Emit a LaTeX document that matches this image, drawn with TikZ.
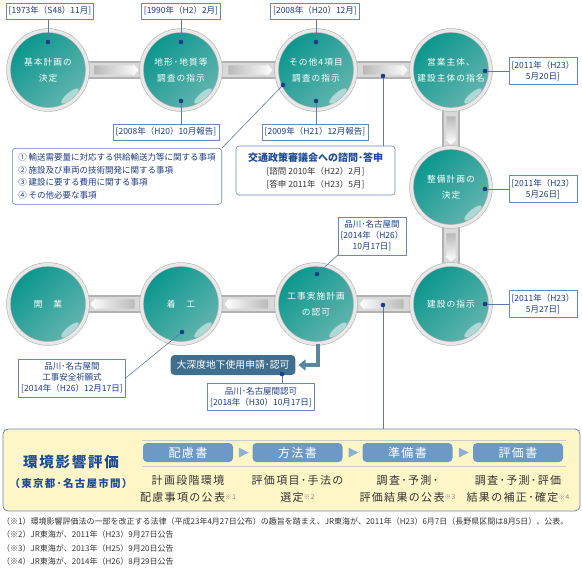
\documentclass[tikz,border=0pt]{standalone}
\usepackage{fontspec}
\setmainfont{Noto Sans CJK JP}
\newfontfamily\hirome{Noto Sans CJK JP}[LetterSpace=12]
\usepackage{xcolor}
\usepackage{tikz}
\usetikzlibrary{calc,backgrounds,shapes.arrows,arrows.meta}
\definecolor{midori}{HTML}{0A968D}
\definecolor{midoriusu}{HTML}{64B5AF}
\definecolor{kon}{HTML}{1E3C88}
\definecolor{waku}{HTML}{6688BC}
\definecolor{hagane}{HTML}{3F6F8F}
\definecolor{ao}{HTML}{6D99C7}
\definecolor{aousu}{HTML}{8DB0D6}
\definecolor{ai}{HTML}{1F4C96}
\definecolor{kiiro}{HTML}{FFF6C8}
\definecolor{sumi}{HTML}{333333}
\newcommand{\kome}[1]{{\color{gray}\fontsize{6.5}{7}\selectfont\raisebox{2.5pt}{※#1}}}

\begin{document}
\begin{tikzpicture}[x=1pt,y=-1pt,
  maru/.style={circle,minimum size=79pt,inner sep=0pt,
    left color=midori,right color=midoriusu,shading angle=45,
    draw=gray!60,double=gray!18,double distance=3.2pt,line width=.6pt,
    text=white,align=center,font=\hirome\fontsize{8.7}{16}\selectfont,
    path picture={\fill[white,opacity=.5]
      ([xshift=22pt,yshift=-26pt]path picture bounding box.center)
      ellipse [x radius=11pt,y radius=3.5pt,rotate=40];}},
  hizuke/.style={draw=waku,fill=white,text=kon,line width=.6pt,
    inner xsep=2.5pt,inner ysep=3.5pt,align=center,
    font=\fontsize{8.5}{11}\selectfont},
  ten/.style={fill=kon},
  hari/.style={draw=waku!80!kon,line width=.6pt},
  bou/.style={line width=18pt,draw=gray!60},
  bounaka/.style={line width=14pt,draw=gray!30},
  ya/.style={single arrow,inner sep=4.5pt,draw=none,
    single arrow head extend=1.5pt,single arrow tip angle=100},
  yamigi/.style={ya,minimum height=44pt,left color=gray!55,right color=white},
  yahidari/.style={ya,minimum height=44pt,shape border rotate=180,
    left color=white,right color=gray!55},
  yashita/.style={ya,minimum height=28pt,shape border rotate=270,
    top color=gray!55,bottom color=white},
  hako/.style={draw=waku,fill=white,line width=.6pt,rounded corners=3pt},
  daishindo/.style={fill=hagane,text=white,rounded corners=4pt,
    inner xsep=6pt,minimum height=20pt,font=\fontsize{9.8}{10}\selectfont},
  yajirushi/.style={draw=hagane!85!white,line width=3.5pt,
    -{Triangle[length=7pt,width=11pt]},shorten >=3pt},
  kankyo/.style={draw=waku,fill=kiiro,line width=.8pt,rounded corners=5pt,
    minimum width=577pt,minimum height=82pt},
  shosho/.style={fill=ao,text=white,rounded corners=4pt,minimum width=90pt,
    minimum height=19pt,inner sep=0pt,font=\hirome\fontsize{12}{12}\selectfont},
  sankaku/.style={fill=aousu},
  setsumei/.style={text=sumi,align=center,font=\hirome\fontsize{11}{17}\selectfont},
  chuu/.style={text=sumi,align=left,inner sep=0pt,font=\fontsize{8}{13.5}\selectfont}]
  \useasboundingbox (0,0) rectangle (582,571);

  % 丸
  \node[maru] (kihon) at (48,70) {基本計画の\\決定};
  \node[maru] (chikei) at (181,70) {地形･地質等\\調査の指示};
  \node[maru] (sonota) at (316,70) {その他4項目\\調査の指示};
  \node[maru] (eigyo) at (451,70) {営業主体、\\建設主体の指名};
  \node[maru] (seibi) at (451,187) {整備計画の\\決定};
  \node[maru] (kensetsu) at (451,304) {建設の指示};
  \node[maru] (koji) at (316,304) {工事実施計画\\の認可};
  \node[maru] (chakko) at (181,304) {着　工};
  \node[maru] (kaigyo) at (48,304) {開　業};

  % 棒
  \begin{scope}[on background layer]
    \draw[bou] (kihon.center) -- (chikei.center) -- (sonota.center) -- (eigyo.center)
      -- (seibi.center) -- (kensetsu.center) -- (koji.center) -- (chakko.center) -- (kaigyo.center);
    \draw[bounaka] (kihon.center) -- (chikei.center) -- (sonota.center) -- (eigyo.center)
      -- (seibi.center) -- (kensetsu.center) -- (koji.center) -- (chakko.center) -- (kaigyo.center);
  \end{scope}
  \path (kihon) -- node[yamigi] (y1) {} (chikei);
  \path (chikei) -- node[yamigi] (y2) {} (sonota);
  \path (sonota) -- node[yamigi] (y3) {} (eigyo);
  \path (eigyo) -- node[yashita] (y4) {} (seibi);
  \path (seibi) -- node[yashita] (y5) {} (kensetsu);
  \path (kensetsu) -- node[yahidari] (y6) {} (koji);
  \path (koji) -- node[yahidari] (y7) {} (chakko);
  \path (chakko) -- node[yahidari] (y8) {} (kaigyo);

  % 日付
  \node[hizuke] (h1) at (50,11) {[1973年（S48）11月]};
  \node[hizuke] (h2) at (181,11) {[1990年（H2）2月]};
  \node[hizuke] (h2b) at (166,132) {[2008年（H20）10月報告]};
  \node[hizuke] (h3) at (315,11) {[2008年（H20）12月]};
  \node[hizuke] (h3b) at (315,132) {[2009年（H21）12月報告]};
  \node[hizuke] (h4) at (543,71) {[2011年（H23）\\5月20日]};
  \node[hizuke] (h5) at (543,189) {[2011年（H23）\\5月26日]};
  \node[hizuke] (h6) at (543,304) {[2011年（H23）\\5月27日]};
  \node[hizuke] (h7) at (372,236) {品川･名古屋間\\{}[2014年（H26）\\10月17日]};
  \node[hizuke] (h8) at (72,378) {品川･名古屋間\\工事安全祈願式\\{}[2014年（H26）12月17日]};
  \node[hizuke] (h9) at (261,397) {品川･名古屋間認可\\{}[2018年（H30）10月17日]};

  % 説明の枠
  \node[hako,text=kon,align=left,anchor=north west,inner xsep=6pt,inner ysep=5pt,
    font=\fontsize{8.5}{12.7}\selectfont] (koumoku) at (12,148)
    {① 輸送需要量に対応する供給輸送力等に関する事項\\② 施設及び車両の技術開発に関する事項\\③ 建設に要する費用に関する事項\\④ その他必要な事項};
  \node[hako,text=sumi,align=center,minimum width=159pt,minimum height=49pt,
    font=\fontsize{8.5}{13}\selectfont] (shingikai) at (315.5,170.5)
    {{\color{ai}\bfseries\fontsize{10}{13}\selectfont 交通政策審議会への諮問･答申}\\{}[諮問 2010年（H22）2月]\\{}[答申 2011年（H23）5月]};
  \node[daishindo] (daishin) at (233,365) {大深度地下使用申請･認可};
  \draw[yajirushi] ([xshift=2pt]koji.south) |- (daishin.east);

  % 引出線
  \coordinate (t1) at (48,42);
  \coordinate (t2) at (181,42);
  \coordinate (t2b) at (181,101);
  \coordinate (t3) at (316,42);
  \coordinate (t3b) at (316,101);
  \coordinate (t3l) at (283,85);
  \coordinate (t34) at (383,76);
  \coordinate (t4) at (485,71);
  \coordinate (t5) at (485,189);
  \coordinate (t6) at (485,304);
  \coordinate (t67) at (383,305);
  \coordinate (t7) at (317,274);
  \coordinate (t8) at (182,332);
  \coordinate (td) at (282,374);

  % 環境影響評価
  \node[kankyo] (kankyo) at (291.5,470) {};
  \draw[hari] (t1) -- (t1 |- h1.south);
  \draw[hari] (t2) -- (t2 |- h2.south);
  \draw[hari] (t2b) -- (t2b |- h2b.north);
  \draw[hari] (t3) -- (t3 |- h3.south);
  \draw[hari] (t3b) -- (t3b |- h3b.north);
  \draw[hari] (t3l) -- (koumoku.north east);
  \draw[hari] (t34) -- (t34 |- shingikai.north);
  \draw[hari] (t4) -- (t4 -| h4.west);
  \draw[hari] (t5) -- (t5 -| h5.west);
  \draw[hari] (t6) -- (t6 -| h6.west);
  \draw[hari] (t7) -- (h7.south west);
  \draw[hari] (t8) -- (h8.east);
  \draw[hari] (td) -- (td |- h9.north);
  \draw[hari] (t67) -- (t67 |- kankyo.north);
  \fill[ten] (t1) circle (2.3pt) (t2) circle (2.3pt) (t2b) circle (2.3pt)
    (t3) circle (2.3pt) (t3b) circle (2.3pt) (t3l) circle (2.3pt) (t34) circle (2.3pt)
    (t4) circle (2.3pt) (t5) circle (2.3pt) (t6) circle (2.3pt) (t67) circle (2.3pt)
    (t7) circle (2.3pt) (t8) circle (2.3pt) (td) circle (2.3pt);

  \node[text=ai,font=\hirome\bfseries\fontsize{14.5}{16}\selectfont] (midashi) at (71,462) {環境影響評価};
  \node[text=ai,font=\hirome\bfseries\fontsize{10.5}{12}\selectfont] (kukan) at (71,484) {（東京都･名古屋市間）};
  \draw[gray!40,line width=.6pt] (142,440) -- (566,440);
  \draw[gray!40,line width=.6pt] (142,466) -- (566,466);
  \node[shosho] (hairyo) at (188,452.5) {配慮書};
  \node[shosho] (hoho) at (297.5,452.5) {方法書};
  \node[shosho] (junbi) at (407.5,452.5) {準備書};
  \node[shosho] (hyoka) at (518,452.5) {評価書};
  \path (hairyo) -- coordinate[midway] (s1) (hoho);
  \path (hoho) -- coordinate[midway] (s2) (junbi);
  \path (junbi) -- coordinate[midway] (s3) (hyoka);
  \fill[sankaku] ($(s1)+(-4,-5)$) -- ($(s1)+(6,0)$) -- ($(s1)+(-4,5)$) -- cycle;
  \fill[sankaku] ($(s2)+(-4,-5)$) -- ($(s2)+(6,0)$) -- ($(s2)+(-4,5)$) -- cycle;
  \fill[sankaku] ($(s3)+(-4,-5)$) -- ($(s3)+(6,0)$) -- ($(s3)+(-4,5)$) -- cycle;
  \node[setsumei] (hairyo2) at (188,489) {計画段階環境\\配慮事項の公表\kome{1}};
  \node[setsumei] (hoho2) at (297.5,489) {評価項目･手法の\\選定\kome{2}};
  \node[setsumei] (junbi2) at (407.5,489) {調査･予測･\\評価結果の公表\kome{3}};
  \node[setsumei] (hyoka2) at (518,489) {調査･予測･評価\\結果の補正･確定\kome{4}};

  % 注
  \node[chuu,anchor=north west] (chuu) at (2,517) {（※1）環境影響評価法の一部を改正する法律（平成23年4月27日公布）の趣旨を踏まえ、JR東海が、2011年（H23）6月7日（長野県区間は8月5日）、公表。\\（※2）JR東海が、2011年（H23）9月27日公告\\（※3）JR東海が、2013年（H25）9月20日公告\\（※4）JR東海が、2014年（H26）8月29日公告};
\end{tikzpicture}
\end{document}
